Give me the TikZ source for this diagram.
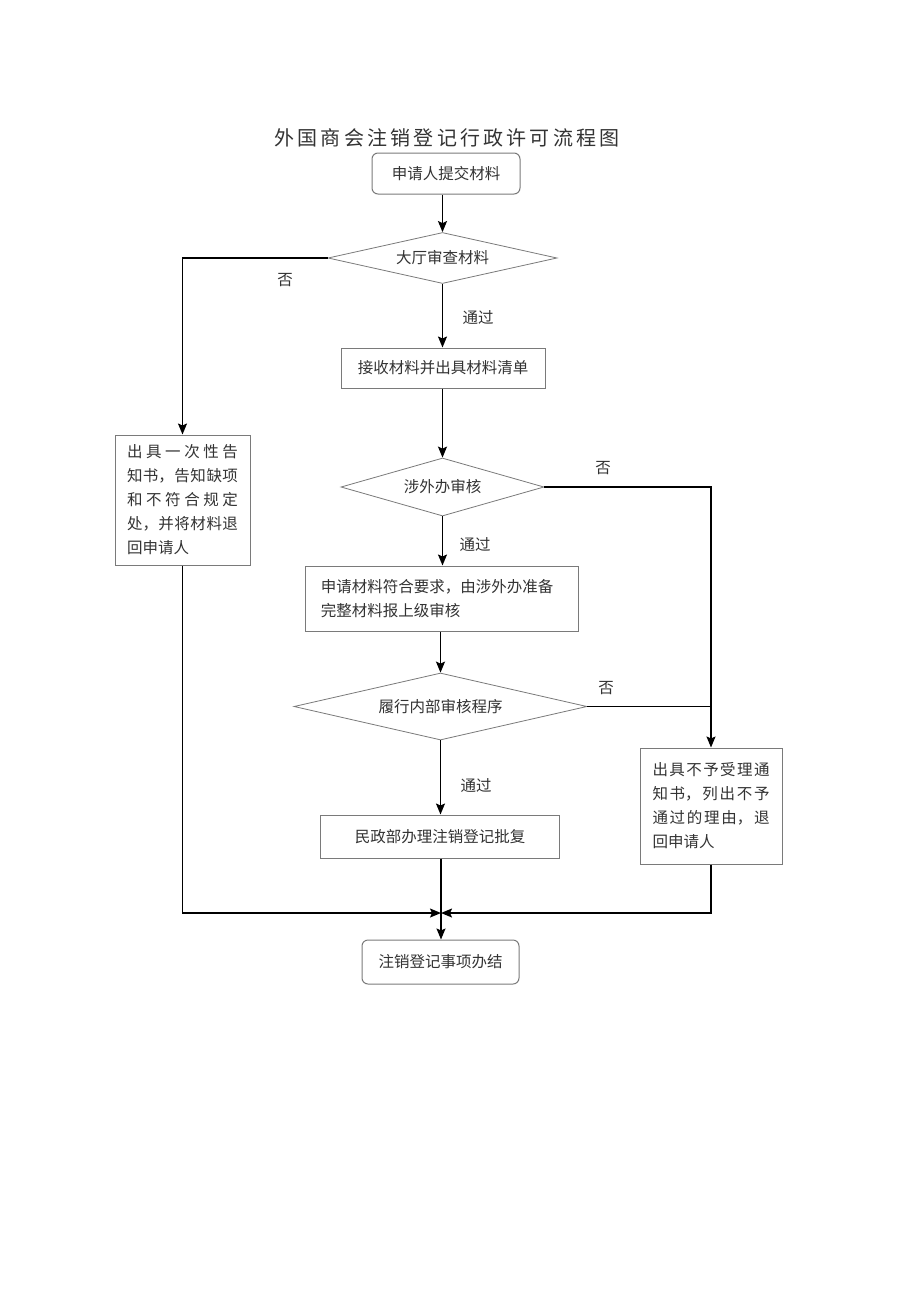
\documentclass[tikz,border=0pt]{standalone}
\usepackage{fontspec}
\setmainfont{Noto Sans CJK SC}
\usetikzlibrary{shapes.geometric,arrows.meta}
\definecolor{bordergray}{HTML}{7A7A7A}
\definecolor{textgray}{HTML}{333333}
\newcommand{\jl}[2]{\makebox[#1][s]{#2}}
\begin{document}
\begin{tikzpicture}[x=1pt,y=-1pt,
  every node/.style={text=textgray},
  boxstyle/.style={draw=bordergray, line width=1pt, rectangle, inner sep=0pt, font=\fontsize{15.5}{24}\selectfont},
  rboxstyle/.style={boxstyle, rounded corners=6pt},
  diastyle/.style={draw=bordergray, line width=0.8pt, diamond, inner sep=0pt, font=\fontsize{15.5}{20}\selectfont},
  flow/.style={draw=black, line width=1.5pt},
  arr/.style={flow, -{Stealth[length=11pt,width=9pt,inset=2pt]}},
  lab/.style={font=\fontsize{15.5}{20}\selectfont}
]
\useasboundingbox (0,0) rectangle (920,1301);
\fill[white] (0,0) rectangle (920,1301);

\node[font=\fontsize{20}{24}\selectfont, text=textgray] (title) at (447,138)
  {\jl{345pt}{外\hfill 国\hfill 商\hfill 会\hfill 注\hfill 销\hfill 登\hfill 记\hfill 行\hfill 政\hfill 许\hfill 可\hfill 流\hfill 程\hfill 图}};

\node[rboxstyle, minimum width=148pt, minimum height=41pt] (n1) at (446,173.5) {申请人提交材料};
\node[diastyle, minimum width=229pt, minimum height=51pt, aspect=4.5] (d1) at (442.5,258) {大厅审查材料};
\node[boxstyle, minimum width=204pt, minimum height=40pt] (n2) at (443,368) {接收材料并出具材料清单};
\node[diastyle, minimum width=203pt, minimum height=58pt, aspect=3.5] (d2) at (442.5,487) {涉外办审核};
\node[boxstyle, minimum width=273pt, minimum height=65pt, align=left] (n3) at (441.5,598.5)
  {申请材料符合要求，由涉外办准备\\完整材料报上级审核\hspace*{102pt}};
\node[diastyle, minimum width=293pt, minimum height=67pt, aspect=4.37] (d3) at (440.5,706.5) {履行内部审核程序};
\node[boxstyle, minimum width=239pt, minimum height=43pt] (n4) at (440,836.5) {民政部办理注销登记批复};
\node[boxstyle, minimum width=135pt, minimum height=130pt, align=left] (nl) at (182.5,500)
  {\jl{111pt}{出\hfill 具\hfill 一\hfill 次\hfill 性\hfill 告}\\
   \jl{111pt}{知\hfill 书，\hfill 告\hfill 知\hfill 缺\hfill 项}\\
   \jl{111pt}{和\hfill 不\hfill 符\hfill 合\hfill 规\hfill 定}\\
   \jl{111pt}{处，\hfill 并\hfill 将\hfill 材\hfill 料\hfill 退}\\
   \makebox[111pt][l]{回申请人}};
\node[boxstyle, minimum width=142pt, minimum height=116pt, align=left] (nr) at (711,806)
  {\jl{117pt}{出\hfill 具\hfill 不\hfill 予\hfill 受\hfill 理\hfill 通}\\
   \jl{117pt}{知\hfill 书，\hfill 列\hfill 出\hfill 不\hfill 予}\\
   \jl{117pt}{通\hfill 过\hfill 的\hfill 理\hfill 由，\hfill 退}\\
   \makebox[117pt][l]{回申请人}};
\node[rboxstyle, minimum width=157pt, minimum height=44pt] (n5) at (440.5,962) {注销登记事项办结};

\node[lab] (l1) at (285,280) {否};
\node[lab] (l2) at (478,318) {通过};
\node[lab] (l3) at (603,468) {否};
\node[lab] (l4) at (475,545) {通过};
\node[lab] (l5) at (606,688) {否};
\node[lab] (l6) at (476,786) {通过};

\coordinate (m) at (441,913);

\draw[arr] (d1.north |- n1.south) -- (d1.north);
\draw[arr] (d1.south) -- (d1.south |- n2.north);
\draw[arr] (d2.north |- n2.south) -- (d2.north);
\draw[arr] (d2.south) -- (d2.south |- n3.north);
\draw[arr] (d3.north |- n3.south) -- (d3.north);
\draw[arr] (d3.south) -- (d3.south |- n4.north);
\draw[arr] (d1.west) -| (nl.north);
\draw[arr] (d2.east) -| (nr.north);
\draw[flow] (d3.east) -- (d3.east -| nr.north);
\draw[arr] (nl.south) |- (m);
\draw[arr] (nr.south) |- (m);
\draw[arr] (n4.south -| m) -- (n5.north -| m);
\end{tikzpicture}
\end{document}
